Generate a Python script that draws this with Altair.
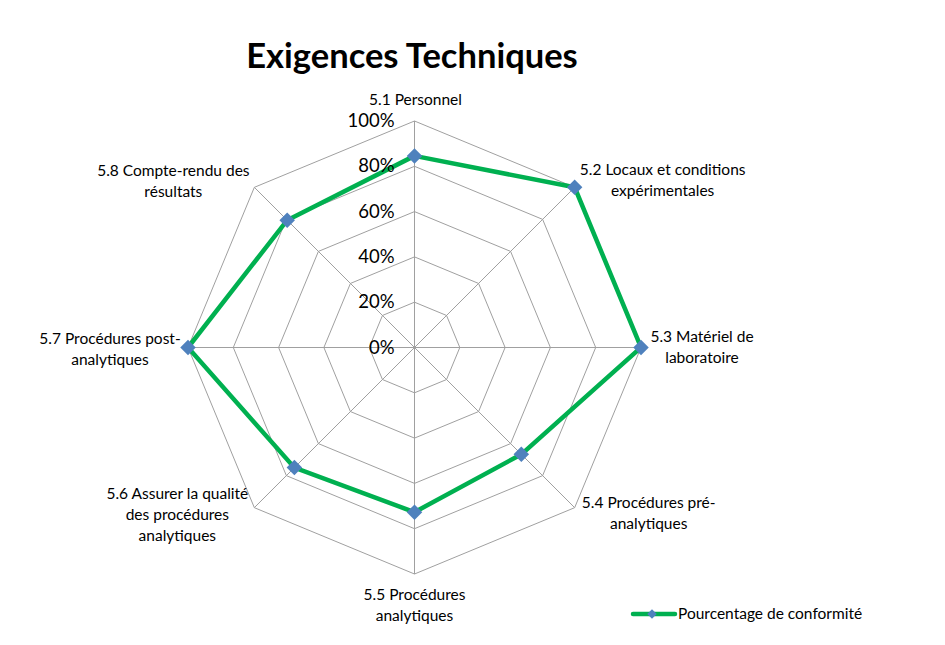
import altair as alt
import pandas as pd

title_text = "Exigences Techniques"
series_name = "Pourcentage de conformité"
categories = [
    "5.1 Personnel",
    "5.2 Locaux et conditions\nexpérimentales",
    "5.3 Matériel de\nlaboratoire",
    "5.4 Procédures pré-\nanalytiques",
    "5.5 Procédures\nanalytiques",
    "5.6 Assurer la qualité\ndes procédures\nanalytiques",
    "5.7 Procédures post-\nanalytiques",
    "5.8 Compte-rendu des\nrésultats",
]
values = [0.846, 1.0, 1.0, 0.667, 0.727, 0.75, 1.0, 0.795]
levels = [0.0, 0.2, 0.4, 0.6, 0.8, 1.0]
level_labels = ["0%", "20%", "40%", "60%", "80%", "100%"]

# centre of each label block relative to the 100% vertex, in pixels
label_dx = [1, 88, 61, 74, 0, -77, -78, -81]
label_dy = [-21, -7, 0, 6, 31, 7, 2, -6]

N = len(categories)
W, H = 929, 629
CX, CY = 406.5, 339.5   # centre of the radar in plot pixels
R = 226.5               # radius of the 100% ring in pixels
LH = 21                 # label line height

FONT = "Lato"
GRID = "#a0a0a0"
GREEN = "#00B050"
BLUE = "#4F81BD"

x_enc = alt.X("px:Q", scale=alt.Scale(domain=[-CX / R, (W - CX) / R], nice=False, zero=False), axis=None)
y_enc = alt.Y("py:Q", scale=alt.Scale(domain=[-(H - CY) / R, CY / R], nice=False, zero=False), axis=None)


def polar(chart, r="r"):
    return chart.transform_calculate(a=f"2 * PI * datum.i / {N}").transform_calculate(
        px=f"datum.{r} * sin(datum.a)", py=f"datum.{r} * cos(datum.a)"
    )


grid_df = pd.DataFrame(
    [{"level": lv, "i": i, "r": lv} for lv in levels[1:] for i in range(N + 1)]
)
spoke_df = pd.DataFrame([{"i": i, "r": r} for i in range(N) for r in (0.0, 1.0)])
series_df = pd.DataFrame({"i": list(range(N + 1)), "r": values + values[:1]})
label_df = pd.DataFrame({"i": list(range(N)), "text": categories, "dx": label_dx, "dy": label_dy})
tick_df = pd.DataFrame({"r": levels, "text": level_labels})

grid = polar(alt.Chart(grid_df)).mark_line(color=GRID, strokeWidth=1).encode(
    x=x_enc, y=y_enc, detail="level:N", order="i:Q"
)
spokes = polar(alt.Chart(spoke_df)).mark_line(color=GRID, strokeWidth=1).encode(
    x=x_enc, y=y_enc, detail="i:N", order="r:Q"
)
line = polar(alt.Chart(series_df)).mark_line(color=GREEN, strokeWidth=4.5, strokeJoin="miter").encode(
    x=x_enc, y=y_enc, order="i:Q"
)
points = polar(alt.Chart(series_df[:N])).mark_point(
    shape="diamond", filled=True, size=240, color=BLUE, opacity=1
).encode(x=x_enc, y=y_enc)

labels = (
    alt.Chart(label_df)
    .transform_calculate(a=f"2 * PI * datum.i / {N}", n="length(split(datum.text, '\\n'))")
    .transform_calculate(
        px=f"sin(datum.a) + datum.dx / {R}",
        py=f"cos(datum.a) - (datum.dy - (datum.n - 1) * {LH} / 2) / {R}",
    )
    .mark_text(font=FONT, fontSize=15.5, color="#000000", align="center", baseline="middle",
               lineBreak="\n", lineHeight=LH)
    .encode(x=x_enc, y=y_enc, text="text:N")
)

ticks = (
    alt.Chart(tick_df)
    .transform_calculate(px="0", py="datum.r")
    .mark_text(font=FONT, fontSize=18.5, color="#000000", align="right", baseline="middle", dx=-20)
    .encode(x=x_enc, y=y_enc, text="text:N")
)

one = pd.DataFrame({"t": [title_text], "s": [series_name]})
title = alt.Chart(one).mark_text(
    font=FONT, fontSize=34.5, fontWeight="bold", color="#000000", align="center", baseline="alphabetic"
).encode(x=alt.value(404), y=alt.value(60), text="t:N")

leg_line = alt.Chart(one).mark_rule(color=GREEN, strokeWidth=4.5, strokeCap="round").encode(
    x=alt.value(625), x2=alt.value(667), y=alt.value(606)
)
leg_point = alt.Chart(one).mark_point(shape="diamond", filled=True, size=90, color=BLUE, opacity=1).encode(
    x=alt.value(644), y=alt.value(606)
)
leg_text = alt.Chart(one).mark_text(
    font=FONT, fontSize=15.5, color="#000000", align="left", baseline="middle"
).encode(x=alt.value(670), y=alt.value(606), text="s:N")

chart = (
    alt.layer(grid, spokes, line, points, ticks, labels, title, leg_line, leg_point, leg_text)
    .properties(width=W, height=H, autosize=alt.AutoSizeParams(type="none"), padding=0,
                background="white")
    .configure_view(stroke=None)
)

chart.save("out.html", embed_options={"renderer": "svg", "actions": False})
